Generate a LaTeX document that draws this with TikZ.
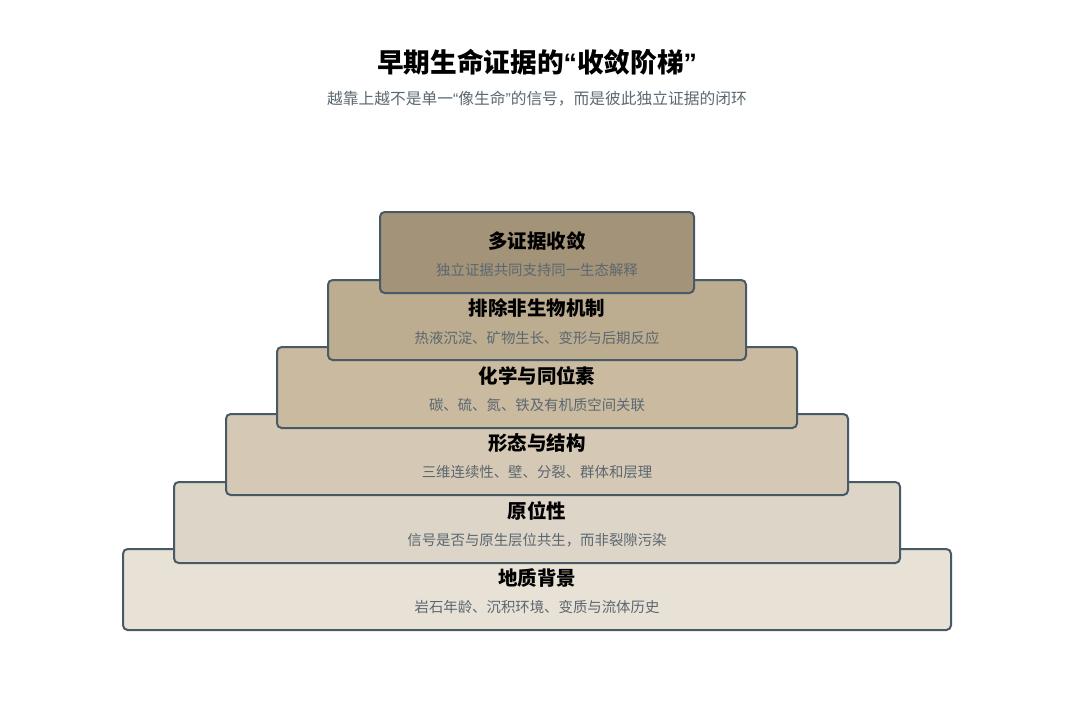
\documentclass[tikz,border=0pt]{standalone}
\usepackage{fontspec}
\setmainfont{Noto Sans CJK SC}
\newfontfamily\quotefont{Liberation Sans}
\usepackage{xcolor}

\definecolor{edge}{HTML}{485A66}
\definecolor{subgray}{HTML}{5B6770}
\definecolor{tierA}{HTML}{A39378}
\definecolor{tierB}{HTML}{BCAC90}
\definecolor{tierC}{HTML}{C9BAA0}
\definecolor{tierD}{HTML}{D5C9B5}
\definecolor{tierE}{HTML}{DDD5C8}
\definecolor{tierF}{HTML}{E7E1D6}

% narrow quotes, as in the reference
\newcommand{\openq}{{\quotefont “}}
\newcommand{\closeq}{{\quotefont ”}}

\tikzset{
    tier/.style={draw=edge, line width=1.5pt, rounded corners=3.5pt},
    tiername/.style={font=\fontsize{14.6}{17}\selectfont\bfseries, text=black},
    tiernote/.style={font=\fontsize{10.8}{13}\selectfont, text=subgray}
}

\begin{document}
\begin{tikzpicture}[x=0.75pt, y=-0.75pt]
    \useasboundingbox (0,0) rectangle (1074,718);

    \node[font=\fontsize{20}{24}\selectfont\bfseries] (title) at (537,62) {早期生命证据的\openq 收敛阶梯\closeq};
    \node[font=\fontsize{11.8}{14}\selectfont, text=subgray] (subtitle) at (537,99) {越靠上越不是单一\openq 像生命\closeq 的信号，而是彼此独立证据的闭环};

    % bottom tier first, so each upper tier covers the one below
    \draw[tier, fill=tierF] (123,549) rectangle (951,630);
    \node[tiername] (geo) at (537,578) {地质背景};
    \node[tiernote] (geonote) at (537,607) {岩石年龄、沉积环境、变质与流体历史};

    \draw[tier, fill=tierE] (174,482) rectangle (900,563);
    \node[tiername] (insitu) at (537,511) {原位性};
    \node[tiernote] (insitunote) at (537,540) {信号是否与原生层位共生，而非裂隙污染};

    \draw[tier, fill=tierD] (226,414) rectangle (848,495);
    \node[tiername] (morph) at (537,443) {形态与结构};
    \node[tiernote] (morphnote) at (537,472) {三维连续性、壁、分裂、群体和层理};

    \draw[tier, fill=tierC] (277,347) rectangle (797,428);
    \node[tiername] (chem) at (537,376) {化学与同位素};
    \node[tiernote] (chemnote) at (537,405) {碳、硫、氮、铁及有机质空间关联};

    \draw[tier, fill=tierB] (328,280) rectangle (746,360);
    \node[tiername] (abio) at (537,308) {排除非生物机制};
    \node[tiernote] (abionote) at (537,338) {热液沉淀、矿物生长、变形与后期反应};

    \draw[tier, fill=tierA] (380,212) rectangle (694,293);
    \node[tiername] (conv) at (537,241) {多证据收敛};
    \node[tiernote] (convnote) at (537,270) {独立证据共同支持同一生态解释};
\end{tikzpicture}
\end{document}
